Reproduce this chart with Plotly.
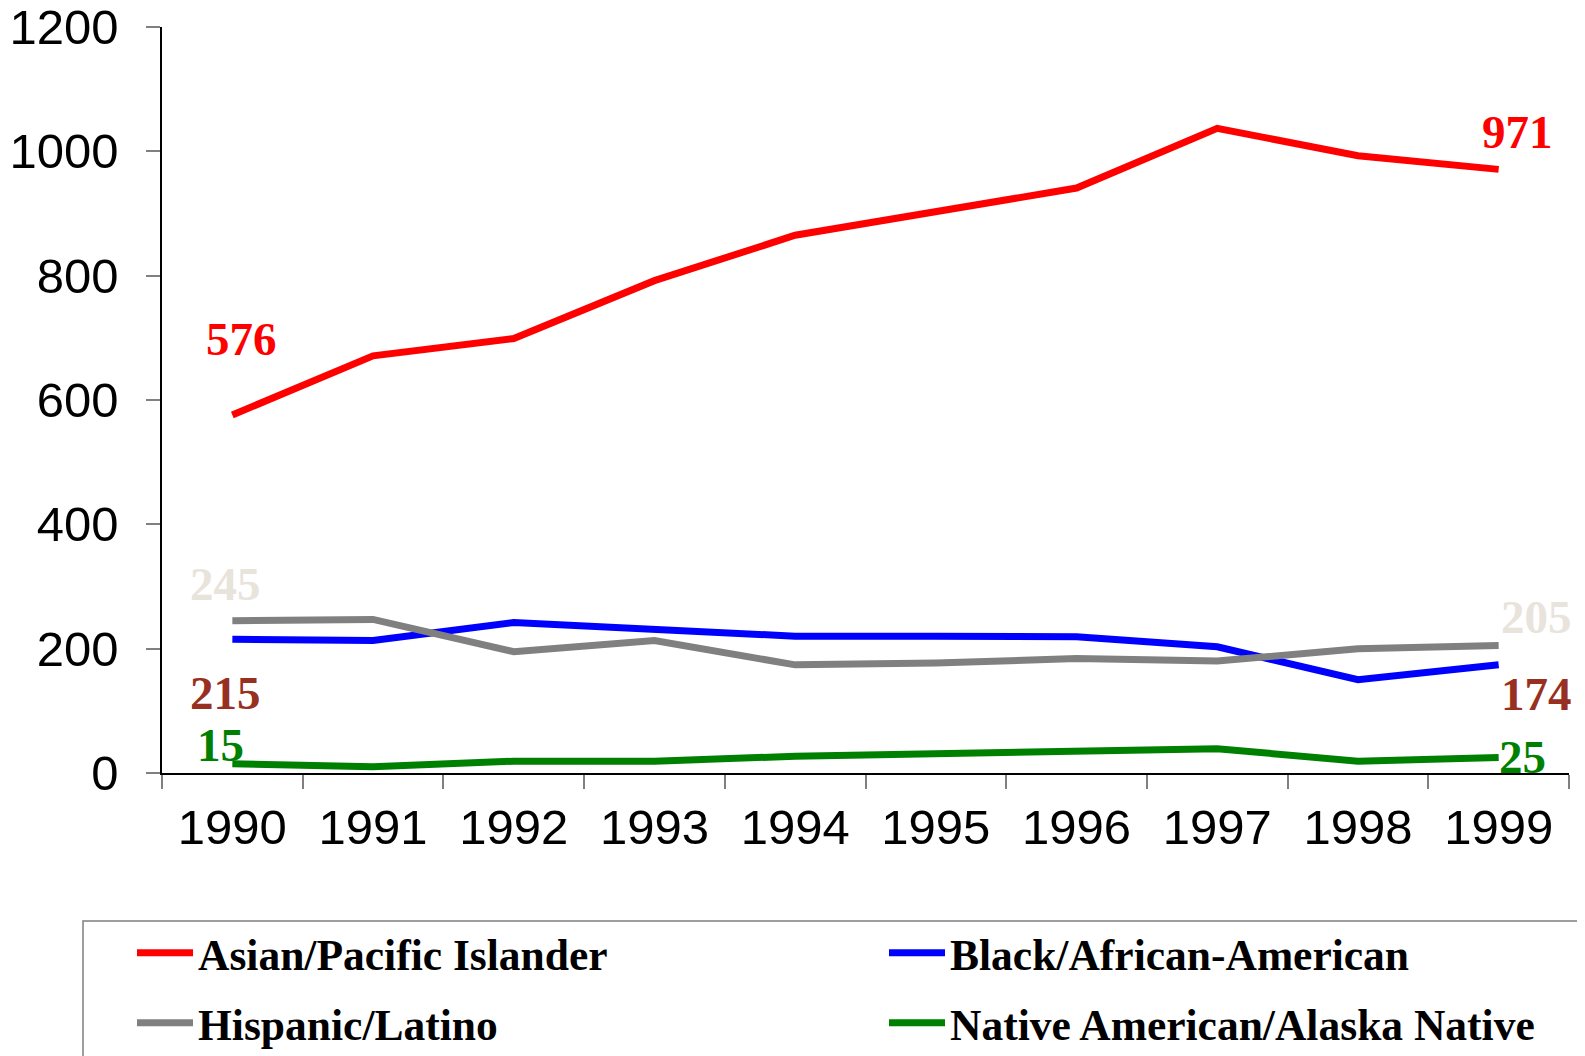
import plotly.graph_objects as go

years = ["1990", "1991", "1992", "1993", "1994", "1995", "1996", "1997", "1998", "1999"]
asian = [576, 671, 699, 792, 865, 903, 941, 1037, 993, 971]
black = [215, 213, 242, 232, 220, 220, 219, 203, 150, 174]
hispanic = [245, 247, 195, 213, 174, 177, 184, 180, 200, 205]
native = [15, 10, 19, 19, 27, 31, 34, 39, 19, 25]

names = ["Asian/Pacific Islander", "Black/African-American", "Hispanic/Latino",
         "Native American/Alaska Native"]
colors = ["#FF0000", "#0000FF", "#808080", "#008000"]
series = [asian, black, hispanic, native]
legends = ["legend", "legend", "legend2", "legend2"]
entry_w = [681, 610, 681, 610]

W, H = 1585, 1056
L, T, PW, PH = 154, 19, 1407, 746
R, B = W - L - PW, H - T - PH

def px_x(x):
    return (x - L) / PW

def px_y(y):
    return (T + PH - y) / PH

fig = go.Figure()
for name, col, ys, lg, ew in zip(names, colors, series, legends, entry_w):
    fig.add_trace(go.Scatter(x=years, y=ys, mode="lines", name="<b>" + name + "</b>",
                             legend=lg, legendwidth=ew,
                             line=dict(color=col, width=7)))

serif = "Liberation Serif, Times New Roman, serif"
lab_size = 47
label_specs = [
    # (series, index, text color, xshift, yshift)
    (asian, 0, "#FF0000", 9, 76),
    (asian, 9, "#FF0000", 19, 37),
    (hispanic, 0, "#E8E3DB", -7, 37),
    (hispanic, 9, "#E8E3DB", 38, 29),
    (black, 0, "#983022", -7, -54),
    (black, 9, "#983022", 38, -29),
    (native, 0, "#008000", -12, 19),
    (native, 9, "#008000", 24, 0),
]
for ys, i, col, dx, dy in label_specs:
    fig.add_annotation(x=i, y=ys[i], xref="x", yref="y", text="<b>" + str(ys[i]) + "</b>",
                       showarrow=False, xshift=dx, yshift=dy,
                       xanchor="center", yanchor="middle",
                       font=dict(family=serif, size=lab_size, color=col))

# legend frame
fig.add_shape(type="rect", xref="paper", yref="paper",
              x0=px_x(75), x1=px_x(1640), y0=px_y(913), y1=px_y(1100),
              line=dict(color="#7F7F7F", width=1.5), fillcolor="rgba(0,0,0,0)")

leg_font = dict(family=serif, size=43.5, color="#000000")
common_leg = dict(orientation="h", xanchor="left", yanchor="middle",
                  x=px_x(124), entrywidthmode="pixels",
                  font=leg_font, bgcolor="rgba(0,0,0,0)", borderwidth=0,
                  itemwidth=56, traceorder="normal")

tick_font = dict(family="Liberation Sans, Arial, sans-serif", size=49, color="#000000")
fig.update_layout(
    template="none",
    width=W, height=H,
    margin=dict(l=L, r=R, t=T, b=B, pad=0, autoexpand=False),
    paper_bgcolor="white", plot_bgcolor="white",
    showlegend=True,
    legend=dict(y=px_y(945), **common_leg),
    legend2=dict(y=px_y(1015), **common_leg),
    xaxis=dict(type="category", categoryorder="array", categoryarray=years,
               range=[-0.5, 9.5], tickson="boundaries", ticks="outside",
               ticklen=14, tickcolor="#808080", tickwidth=1.5,
               showline=True, linecolor="#000000", linewidth=1.5,
               showgrid=False, zeroline=False, ticklabelstandoff=10,
               ticklabeloverflow="allow",
               automargin=False, tickfont=tick_font),
    yaxis=dict(range=[0, 1200], tickmode="array",
               tickvals=[0, 200, 400, 600, 800, 1000, 1200],
               ticks="outside", ticklen=14, tickcolor="#808080", tickwidth=1.5,
               showline=True, linecolor="#000000", linewidth=1.5,
               showgrid=False, zeroline=False, ticklabelstandoff=18,
               ticklabeloverflow="allow",
               automargin=False, tickfont=tick_font),
)

fig.write_html("out.html")
